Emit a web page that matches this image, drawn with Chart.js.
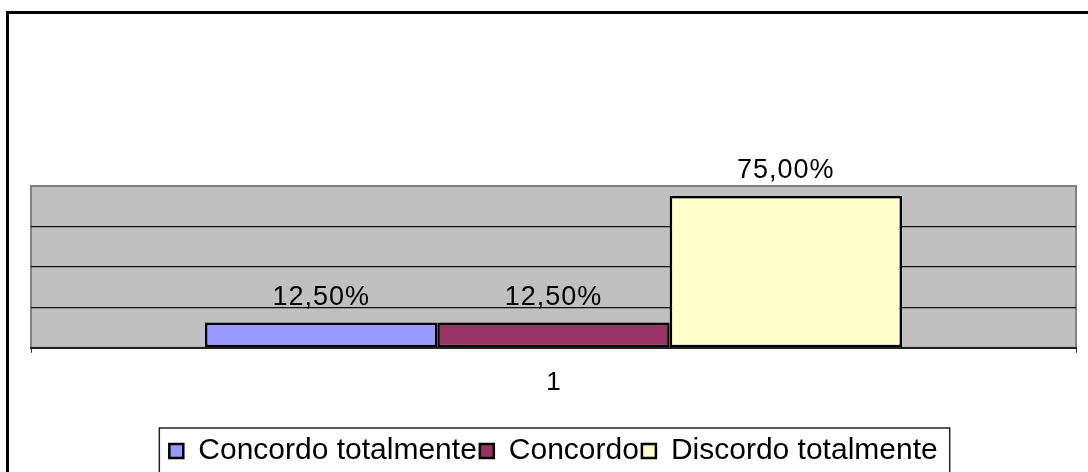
<!DOCTYPE html>
<html>
<head>
<meta charset="utf-8">
<script src="https://cdn.jsdelivr.net/npm/chart.js@4/dist/chart.umd.min.js"></script>
<style>
    body { margin: 0; background: #fff; }
    canvas { display: block; }
</style>
</head>
<body>
<canvas id="respChart" width="1088" height="472"></canvas>
<script>
// values
var categories = ['1'];
var seriesNames = ['Concordo totalmente', 'Concordo', 'Discordo totalmente'];
var seriesValues = [[0.125], [0.125], [0.75]];
var seriesColors = ['#9999FF', '#993366', '#FFFFCC'];
var yMax = 0.8;
var yStep = 0.2;

var fontName = "'Liberation Sans', Arial, sans-serif";

function pct(v){
    return (v * 100).toFixed(2).replace('.', ',') + '%';
}

var framePlugin = {
    id: 'framePlugin',
    beforeDraw: function(chart){
        var ctx = chart.ctx;
        var a = chart.chartArea;
        ctx.save();
        // outer chart border (only left/top visible)
        ctx.fillStyle = '#000';
        ctx.fillRect(6, 11, 3, 480);
        ctx.fillRect(6, 11, 1100, 3);
        // plot area
        ctx.fillStyle = '#C0C0C0';
        ctx.fillRect(a.left, a.top, a.right - a.left, a.bottom - a.top);
        ctx.strokeStyle = '#808080';
        ctx.lineWidth = 2;
        ctx.strokeRect(a.left, a.top, a.right - a.left, a.bottom - a.top);
        ctx.restore();
    },
    afterDatasetsDraw: function(chart){
        var ctx = chart.ctx;
        ctx.save();
        ctx.font = '27px ' + fontName;
        ctx.letterSpacing = '1px';
        ctx.fillStyle = '#000';
        ctx.textAlign = 'center';
        ctx.textBaseline = 'alphabetic';
        chart.data.datasets.forEach(function(ds, i){
            var meta = chart.getDatasetMeta(i);
            meta.data.forEach(function(bar, j){
                ctx.fillText(pct(ds.data[j]), bar.x, bar.y - 18);
            });
        });
        ctx.restore();
    },
    afterDraw: function(chart){
        var boxes = chart.legend.legendHitBoxes;
        if (!boxes || !boxes.length) return;
        var first = boxes[0], last = boxes[boxes.length - 1];
        var cy = first.top + first.height / 2;
        var ctx = chart.ctx;
        ctx.save();
        ctx.strokeStyle = '#222';
        ctx.lineWidth = 1.5;
        ctx.strokeRect(first.left - 10, cy - 23, (last.left + last.width) - first.left + 22, 46);
        ctx.restore();
    }
};

var datasets = [];
for (var i = 0; i < seriesNames.length; i++) {
    datasets.push({
        label: seriesNames[i],
        data: seriesValues[i],
        backgroundColor: seriesColors[i],
        borderColor: '#000',
        borderWidth: 2.5,
        borderSkipped: false,
        barPercentage: 1,
        categoryPercentage: 0.667
    });
}

var respChart = new Chart(document.getElementById('respChart').getContext('2d'), {
    type: 'bar',
    data: {
        labels: categories,
        datasets: datasets
    },
    options: {
        responsive: false,
        animation: false,
        layout: {
            padding: { top: 186, left: 31, right: 12, bottom: -4 }
        },
        scales: {
            x: {
                grid: {
                    offset: true,
                    drawOnChartArea: false,
                    tickLength: 5,
                    color: '#333'
                },
                border: { display: true, color: '#222', width: 2 },
                ticks: {
                    color: '#000',
                    padding: 14,
                    font: { family: fontName, size: 26 }
                },
                afterFit: function(scale){
                    scale.height = scale.height + 21;
                }
            },
            y: {
                min: 0,
                max: yMax,
                ticks: { display: false, stepSize: yStep },
                border: { display: false },
                grid: {
                    drawTicks: false,
                    color: function(c){ return c.tick && c.tick.value >= yMax ? '#808080' : '#111'; },
                    lineWidth: 1.3
                }
            }
        },
        plugins: {
            legend: {
                position: 'bottom',
                labels: {
                    color: '#000',
                    boxWidth: 14,
                    boxHeight: 14,
                    padding: 3,
                    font: { family: fontName, size: 30 }
                }
            },
            tooltip: { enabled: false }
        }
    },
    plugins: [framePlugin]
});
</script>
</body>
</html>
